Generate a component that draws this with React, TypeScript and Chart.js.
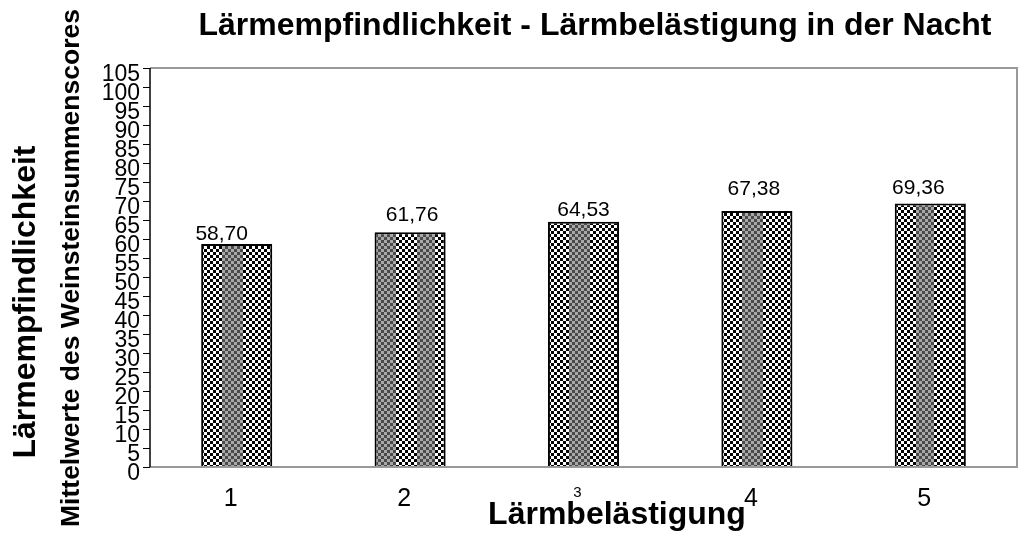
import React, { useEffect, useRef } from "react";
import { Chart, registerables } from "chart.js";

Chart.register(...registerables);

// ---- data ----
const categories = ["1", "2", "3", "4", "5"];
const meanScores = [58.7, 61.76, 64.53, 67.38, 69.36];
const yMin = 0;
const yMax = 105;
const yStep = 5;

const TITLE = "Lärmempfindlichkeit - Lärmbelästigung in der Nacht";
const X_TITLE = "Lärmbelästigung";
const Y_TITLE = "Lärmempfindlichkeit";
const Y_SUBTITLE = "Mittelwerte des Weinsteinsummenscores";

// ---- style ----
const FONT = '"Liberation Sans", Arial, sans-serif';
const BAR_PCT = 0.41;
const STRIPES: number[][][] = [
  [[21, 41]],
  [[0, 21], [41, 59]],
  [[20, 40]],
  [[20, 40]],
  [[19, 38]],
];
const LABEL_NUDGE: number[][] = [
  [-15, 4],
  [2, 11],
  [0, 6],
  [-3, 16],
  [-12, 9],
];

const fmt = (v: number) => v.toFixed(2).replace(".", ",");

function makeTile(stripes: number[][]): HTMLCanvasElement {
  const c = document.createElement("canvas");
  const w = 96;
  const h = 6;
  c.width = w;
  c.height = h;
  const g = c.getContext("2d")!;
  const cell = 3;
  for (let y = 0; y < h; y += cell) {
    for (let x = 0; x < w; x += cell) {
      const inStripe = stripes.some(([a, b]) => x >= a && x < b);
      const dark = (x / cell + y / cell) % 2 === 0;
      g.fillStyle = inStripe ? (dark ? "#4a4a4a" : "#a8a8a8") : dark ? "#000" : "#fff";
      g.fillRect(x, y, cell, cell);
    }
  }
  return c;
}

const textPlugin = {
  id: "texts",
  afterDraw(chart: any) {
    const { ctx, chartArea: a } = chart;
    ctx.save();
    // frame
    ctx.strokeStyle = "#999";
    ctx.lineWidth = 2;
    ctx.beginPath();
    ctx.moveTo(a.left, a.top);
    ctx.lineTo(a.right, a.top);
    ctx.lineTo(a.right, a.bottom);
    ctx.lineTo(a.left, a.bottom);
    ctx.stroke();
    ctx.strokeStyle = "#000";
    ctx.lineWidth = 1.5;
    ctx.beginPath();
    ctx.moveTo(a.left, a.top);
    ctx.lineTo(a.left, a.bottom);
    ctx.stroke();

    // value labels
    const meta = chart.getDatasetMeta(0);
    ctx.fillStyle = "#000";
    ctx.font = `21px ${FONT}`;
    ctx.textAlign = "center";
    ctx.textBaseline = "alphabetic";
    meta.data.forEach((bar: any, i: number) => {
      const [dx, gap] = LABEL_NUDGE[i] || [0, 8];
      ctx.fillText(fmt(meanScores[i]), bar.x + dx, bar.y - gap);
    });

    // titles
    ctx.font = `bold 32px ${FONT}`;
    ctx.fillText(TITLE, 595, 35);
    ctx.fillText(X_TITLE, 617, 524);

    ctx.save();
    ctx.translate(35, 302);
    ctx.rotate(-Math.PI / 2);
    ctx.font = `bold 32px ${FONT}`;
    ctx.fillText(Y_TITLE, 0, 0);
    ctx.restore();

    ctx.save();
    ctx.translate(79, 268);
    ctx.rotate(-Math.PI / 2);
    ctx.font = `bold 26.5px ${FONT}`;
    ctx.fillText(Y_SUBTITLE, 0, 0);
    ctx.restore();

    ctx.restore();
  },
};

export default function App() {
  const ref = useRef<HTMLCanvasElement | null>(null);

  useEffect(() => {
    if (!ref.current) return;
    const tiles = STRIPES.map((s) => makeTile(s));
    const chart = new Chart(ref.current, {
      type: "bar",
      data: {
        labels: categories,
        datasets: [
          {
            data: meanScores,
            backgroundColor: (c: any) => {
              const ch = c.chart;
              const a = ch.chartArea;
              if (c.type !== "data" || !a || !ch.scales.x) return "#000";
              const i = c.dataIndex;
              const cw = (a.right - a.left) / categories.length;
              const left = ch.scales.x.getPixelForValue(i) - (cw * BAR_PCT) / 2;
              const p = ch.ctx.createPattern(tiles[i % tiles.length], "repeat");
              if (p && (p as any).setTransform) {
                p.setTransform(new DOMMatrix([1, 0, 0, 1, Math.round(left), 0]));
              }
              return p || "#000";
            },
            borderColor: "#000",
            borderWidth: 2,
            categoryPercentage: 1,
            barPercentage: BAR_PCT,
          } as any,
        ],
      },
      options: {
        animation: false,
        responsive: false,
        devicePixelRatio: 1,
        layout: { padding: { top: 68, right: 1, left: 0, bottom: 0 } },
        plugins: {
          legend: { display: false },
          title: { display: false },
          tooltip: { enabled: false },
        },
        scales: {
          x: {
            grid: { display: false },
            border: { display: false },
            ticks: {
              color: "#000",
              padding: 9,
              maxRotation: 0,
              labelOffset: -6,
              font: ((c: any) =>
                c.index === 2 ? { family: FONT, size: 15 } : { family: FONT, size: 25 }) as any,
            },
            afterFit: (s: any) => {
              s.height = 66;
            },
          },
          y: {
            min: yMin,
            max: yMax,
            grid: {
              drawOnChartArea: false,
              drawTicks: true,
              tickLength: 7,
              color: "#000",
              lineWidth: 1,
            },
            border: { display: false },
            ticks: {
              stepSize: yStep,
              autoSkip: false,
              color: "#000",
              padding: 3,
              labelOffset: 7,
              font: { family: FONT, size: 23, lineHeight: 0.8 },
            },
            afterFit: (s: any) => {
              s.width = 150;
            },
          },
        },
      },
      plugins: [textPlugin],
    });
    return () => chart.destroy();
  }, []);

  return (
    <div style={{ position: "absolute", left: 0, top: 0, width: 1018, height: 533 }}>
      <canvas ref={ref} width={1018} height={533} style={{ display: "block" }} />
    </div>
  );
}
